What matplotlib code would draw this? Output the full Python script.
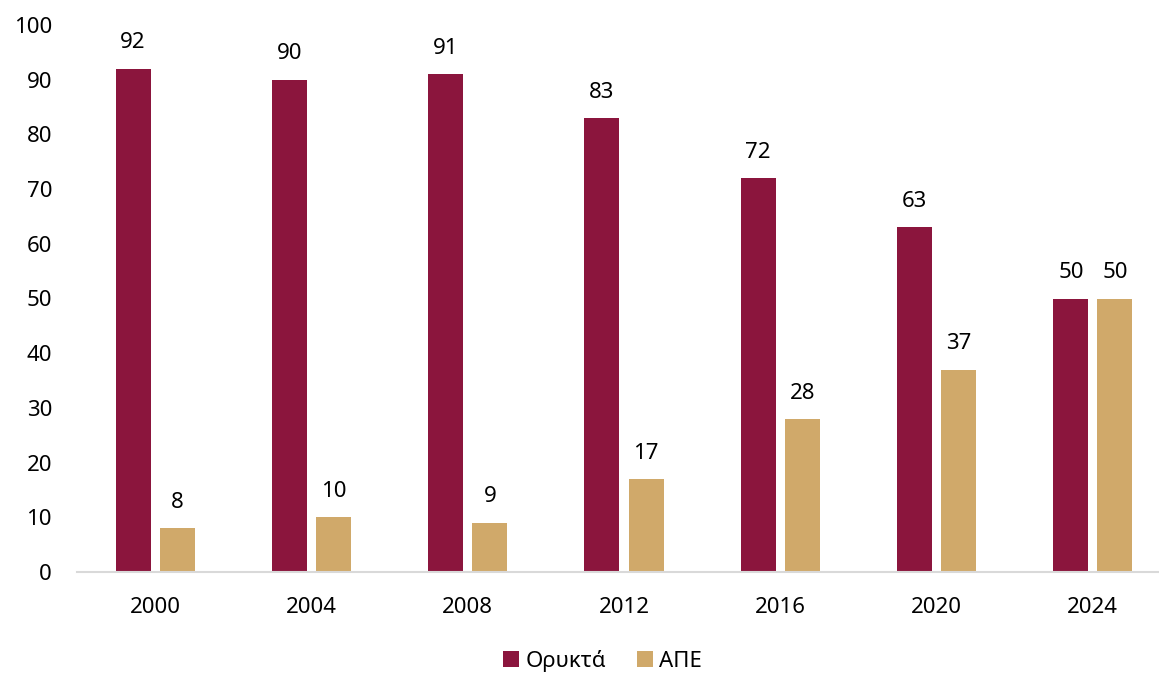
import matplotlib
matplotlib.use("Agg")
import matplotlib.pyplot as plt
import numpy as np

years = ["2000", "2004", "2008", "2012", "2016", "2020", "2024"]
fossil = [92, 90, 91, 83, 72, 63, 50]
renew = [8, 10, 9, 17, 28, 37, 50]
labels = ["Ορυκτά", "ΑΠΕ"]

plt.rcParams['font.family'] = ['Noto Sans', 'DejaVu Sans']

c_fossil = '#8B153D'
c_renew = '#D0A96A'

fig = plt.figure(figsize=(11.59, 6.75), dpi=100)
# axes runs a bit past the right edge, like the reference
ax = fig.add_axes([77 / 1159, 103 / 675, 1094 / 1159, 547 / 675])

x = np.arange(len(years))
w = 0.224
gap = 0.058
b1 = ax.bar(x - (w + gap) / 2, fossil, w, color=c_fossil, label=labels[0])
b2 = ax.bar(x + (w + gap) / 2, renew, w, color=c_renew, label=labels[1])

ax.bar_label(b1, padding=11, fontsize=16)
ax.bar_label(b2, padding=11, fontsize=16)

ax.set_xlim(-0.5, len(years) - 0.5)
ax.set_ylim(0, 100)
ax.set_yticks(np.arange(0, 101, 10))
ax.set_xticks(x)
ax.set_xticklabels(years)
ax.tick_params(axis='both', length=0, labelsize=16)
ax.tick_params(axis='x', pad=18)
ax.tick_params(axis='y', pad=18)

for s in ['top', 'right', 'left']:
    ax.spines[s].set_visible(False)
ax.spines['bottom'].set_color('#d9d9d9')
ax.spines['bottom'].set_linewidth(1.5)

fig.legend(loc='lower center', bbox_to_anchor=(0.52, -0.025), ncol=2, frameon=False,
           fontsize=16, handlelength=0.7, handleheight=0.7, handletextpad=0.3,
           columnspacing=1.4)

fig.savefig("out.png", dpi=100)
